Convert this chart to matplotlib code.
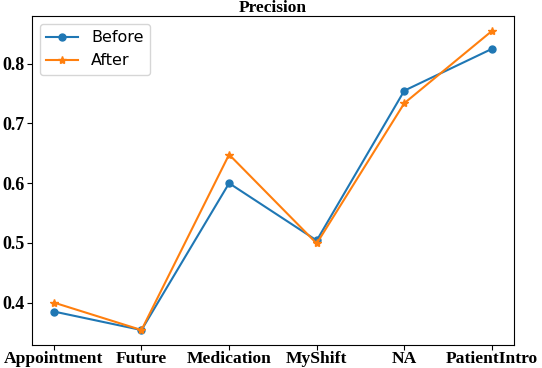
import matplotlib
matplotlib.use("Agg")
import matplotlib.pyplot as plt

categories = ["Appointment", "Future", "Medication", "MyShift", "NA", "PatientIntro"]
before = [0.385, 0.354, 0.600, 0.504, 0.755, 0.825]
after = [0.400, 0.354, 0.648, 0.499, 0.734, 0.855]


def main():
    fig = plt.figure(figsize=(5.42, 3.68), dpi=100)
    ax = fig.add_axes([0.059, 0.0625, 0.889, 0.894])

    ax.plot(categories, before, marker="o", markersize=5, label="Before")
    ax.plot(categories, after, marker="*", markersize=6, label="After")

    ax.set_title("Precision", fontfamily="Liberation Serif", fontweight="bold", fontsize=12.5, pad=2)
    for lbl in ax.get_xticklabels():
        lbl.set_fontfamily("Liberation Serif")
        lbl.set_fontweight("bold")
        lbl.set_fontsize(12.6)
    ax.set_yticks([0.4, 0.5, 0.6, 0.7, 0.8])
    ax.set_yticklabels(["0.4", "0.5", "0.6", "0.7", "0.8"], fontfamily="Liberation Serif",
                       fontweight="bold", fontsize=13)
    ax.tick_params(axis="x", pad=0.5)
    ax.tick_params(axis="y", pad=2)
    ax.legend(loc="upper left", fontsize=11.5)

    fig.savefig("out.png", dpi=100)
    plt.close(fig)


if __name__ == "__main__":
    main()
